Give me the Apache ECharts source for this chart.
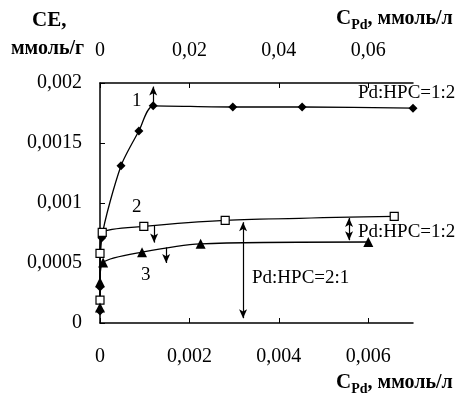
<!DOCTYPE html>
<html>
<head>
<meta charset="utf-8">
<script src="https://cdn.jsdelivr.net/npm/echarts@6/dist/echarts.min.js"></script>
<style>
  html, body { margin: 0; padding: 0; background: #fff; }
  #chart { width: 465px; height: 396px; }
</style>
</head>
<body>
<div id="chart"></div>
<script>
// Sorption capacity CE (mmol/g) versus Pd concentration C_Pd (mmol/l)
// Curve 1 is read against the upper axis, curves 2 and 3 against the lower one.
const curve1 = [[0, 0.0001], [0, 0.0003], [0.0004, 0.00071], [0.0047, 0.00131], [0.0087, 0.0016],
                [0.0119, 0.00181], [0.0297, 0.0018], [0.0452, 0.0018], [0.07, 0.00179]];
const curve2 = [[0, 0.00019], [0, 0.00058], [0.00005, 0.000755], [0.00098, 0.000805],
                [0.0028, 0.000855], [0.00658, 0.000888]];
const curve3 = [[0, 0.00013], [0, 0.00034], [0.00007, 0.000505], [0.00094, 0.00059],
                [0.00225, 0.00066], [0.006, 0.000675]];

const yTicks = [0, 0.0005, 0.001, 0.0015, 0.002];
const bottomTicks = [0, 0.002, 0.004, 0.006];
const topTicks = [0, 0.02, 0.04, 0.06];

// arrows: [x, yFrom, yTo]
const arrow1Up = [0.0119, 0.00181, 0.00197];
const arrow2Down = [0.00121, 0.00081, 0.00067];
const arrow3Down = [0.00148, 0.00063, 0.0005];
const ratio21Arrow = [0.0032, 0.00084, 0.00004];
const ratio12Arrow = [0.00557, 0.000875, 0.00069];

const serif = "'Liberation Serif', 'Times New Roman', serif";
const fmt = v => (v === 0 ? '0' : String(+v.toFixed(6)).replace('.', ','));

function arrowLine(a, headStart, headEnd) {
  return [
    { coord: [a[0], a[1]], symbol: headStart ? 'arrow' : 'none' },
    { coord: [a[0], a[2]], symbol: headEnd ? 'arrow' : 'none' }
  ];
}
const markStyle = {
  silent: true,
  symbolSize: [6, 9],
  lineStyle: { color: '#000', width: 1.2, type: 'solid' },
  label: { show: false },
  emphasis: { disabled: true }
};

const axisCommon = {
  type: 'value',
  axisLine: { show: true, lineStyle: { color: '#000', width: 1.5 } },
  axisTick: { show: true, inside: true, length: 5, lineStyle: { color: '#000', width: 1 } },
  splitLine: { show: false },
  axisLabel: { color: '#000', fontFamily: serif, fontSize: 20, formatter: fmt }
};

// axis title "C_Pd, ммоль/л" with a subscript
function unitTitle(left, top) {
  return {
    type: 'text', left: left, top: top,
    style: {
      text: '{c|C}{s|Pd}{n|, ммоль/л}', fill: '#000',
      rich: {
        c: { font: 'bold 21px ' + serif, verticalAlign: 'bottom' },
        s: { font: 'bold 14px ' + serif, verticalAlign: 'bottom', padding: [0, 0, -3, 0] },
        n: { font: 'bold 20px ' + serif, verticalAlign: 'bottom' }
      }
    }
  };
}

const chart = echarts.init(document.getElementById('chart'), null, { renderer: 'canvas' });
chart.setOption({
  animation: false,
  backgroundColor: '#fff',
  grid: { left: 100, right: 52, top: 83, bottom: 73 },
  xAxis: [
    Object.assign({}, axisCommon, {
      position: 'bottom', min: 0, max: 0.007,
      axisTick: Object.assign({}, axisCommon.axisTick, { customValues: bottomTicks }),
      axisLabel: Object.assign({}, axisCommon.axisLabel, { margin: 24, customValues: bottomTicks })
    }),
    Object.assign({}, axisCommon, {
      position: 'top', min: 0, max: 0.07,
      axisTick: Object.assign({}, axisCommon.axisTick, { customValues: topTicks }),
      axisLabel: Object.assign({}, axisCommon.axisLabel, { margin: 22, customValues: topTicks })
    })
  ],
  yAxis: Object.assign({}, axisCommon, {
    min: 0, max: 0.002,
    axisTick: Object.assign({}, axisCommon.axisTick, { customValues: yTicks }),
    axisLabel: Object.assign({}, axisCommon.axisLabel, { margin: 18, customValues: yTicks })
  }),
  series: [
    {
      name: '1', type: 'line', xAxisIndex: 1, data: curve1, smooth: 0.25,
      symbol: 'diamond', symbolSize: 9,
      itemStyle: { color: '#000' }, lineStyle: { color: '#000', width: 1.3 },
      markLine: Object.assign({}, markStyle, { data: [arrowLine(arrow1Up, false, true)] })
    },
    {
      name: '2', type: 'line', xAxisIndex: 0, data: curve2, smooth: 0.25,
      symbol: 'rect', symbolSize: 8,
      itemStyle: { color: '#fff', borderColor: '#000', borderWidth: 1.2 },
      lineStyle: { color: '#000', width: 1.3 },
      markLine: Object.assign({}, markStyle, {
        data: [arrowLine(arrow2Down, false, true), arrowLine(ratio21Arrow, true, true)]
      })
    },
    {
      name: '3', type: 'line', xAxisIndex: 0, data: curve3, smooth: 0.25,
      symbol: 'triangle', symbolSize: 10,
      itemStyle: { color: '#000' }, lineStyle: { color: '#000', width: 1.3 },
      markLine: Object.assign({}, markStyle, {
        data: [arrowLine(arrow3Down, false, true), arrowLine(ratio12Arrow, true, true)]
      })
    }
  ],
  graphic: [
    { type: 'text', left: 32, top: 10, style: { text: 'CE,', font: 'bold 21px ' + serif, fill: '#000' } },
    { type: 'text', left: 11, top: 39, style: { text: 'ммоль/г', font: 'bold 20px ' + serif, fill: '#000' } },
    unitTitle(336, 8),
    unitTitle(336, 372),
    { type: 'text', left: 132, top: 92, style: { text: '1', font: '19px ' + serif, fill: '#000' } },
    { type: 'text', left: 132, top: 198, style: { text: '2', font: '19px ' + serif, fill: '#000' } },
    { type: 'text', left: 141, top: 266, style: { text: '3', font: '19px ' + serif, fill: '#000' } },
    { type: 'text', left: 358, top: 84, style: { text: 'Pd:HPC=1:2', font: '19px ' + serif, fill: '#000' } },
    { type: 'text', left: 358, top: 223, style: { text: 'Pd:HPC=1:2', font: '19px ' + serif, fill: '#000' } },
    { type: 'text', left: 252, top: 269, style: { text: 'Pd:HPC=2:1', font: '19px ' + serif, fill: '#000' } }
  ]
});
</script>
</body>
</html>
